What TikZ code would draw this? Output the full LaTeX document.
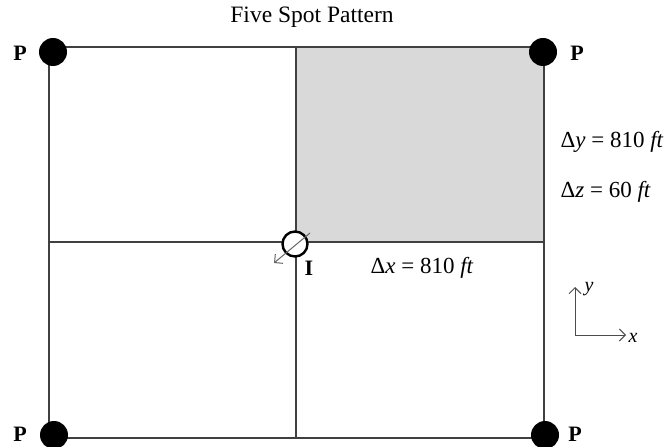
\documentclass[tikz,border=0pt]{standalone}
\usepackage{fontspec}
\setmainfont{Liberation Serif}
\usetikzlibrary{arrows.meta}

\tikzset{
  well/.style={circle, fill=black, inner sep=0pt, minimum size=28pt},
  injwell/.style={circle, draw=black, line width=2.4pt, fill=white, inner sep=0pt, minimum size=25pt},
  welllabel/.style={font=\fontsize{22}{26}\selectfont\bfseries},
  dimlabel/.style={font=\fontsize{23}{27}\selectfont, anchor=west},
  axlabel/.style={font=\fontsize{20}{24}\selectfont\itshape, inner sep=0pt},
  gridline/.style={line width=1.3pt, black!75},
}

\begin{document}
\begin{tikzpicture}[x=1pt, y=-1pt, >=Stealth]
  \useasboundingbox (0,0) rectangle (667,447);
  \fill[black!15] (296,47) rectangle (544,242);
  \draw[gridline] (49,47) rectangle (544,438);
  \draw[gridline] (296,47) -- (296,438);
  \draw[gridline] (49,242) -- (544,242);
  \node (title) at (312,17) {\fontsize{23.5}{27}\selectfont Five Spot Pattern};
  % producers at the corners
  \node[well] (wNW) at (53,52) {};
  \node[well] (wNE) at (543,52) {};
  \node[well] (wSW) at (54,435) {};
  \node[well] (wSE) at (545,435) {};
  \node[welllabel] (pNW) at (20,53) {P};
  \node[welllabel] (pNE) at (577,53) {P};
  \node[welllabel] (pSW) at (20,434) {P};
  \node[welllabel] (pSE) at (575,434) {P};
  % injector in the middle
  \node[injwell] (inj) at (295,244) {};
  \draw[black!60, line width=1pt, -{Straight Barb[length=6pt]}] (310,233) -- (274,263);
  \node[welllabel] (ilab) at (309,268) {I};
  \node[dimlabel] (dy) at (557,142) {Δ\textit{y} = 810 \textit{ft}};
  \node[dimlabel] (dz) at (557,192) {Δ\textit{z} = 60 \textit{ft}};
  \node[dimlabel] (dx) at (367,268) {Δ\textit{x} = 810 \textit{ft}};
  % coordinate axes
  \coordinate (o) at (575,335);
  \coordinate (ytip) at (575,287);
  \coordinate (xtip) at (626,335);
  \draw[black!70, line width=1pt, -{Straight Barb[length=6pt]}] (o) -- (ytip);
  \draw[black!70, line width=1pt, -{Straight Barb[length=6pt]}] (o) -- (xtip);
  \node[axlabel] (ylab) at (589,289) {y};
  \node[axlabel] (xlab) at (633,338) {x};
\end{tikzpicture}
\end{document}
